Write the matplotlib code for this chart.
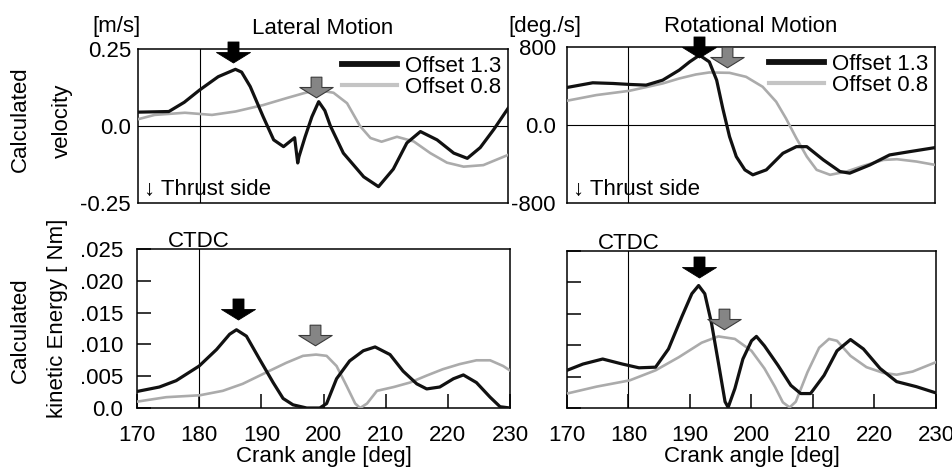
import matplotlib
matplotlib.use("Agg")
import matplotlib.pyplot as plt
from matplotlib.path import Path
from matplotlib.lines import Line2D

plt.rcParams['font.family'] = ['Liberation Sans', 'DejaVu Sans']
plt.rcParams['font.size'] = 16

# ---- data ----
# lateral velocity [m/s]
lat_x13 = [170, 175, 177.5, 180, 183, 185.8, 186.8, 188.2, 190.3, 192, 193.6, 195.4, 195.9,
           196.1, 197.1, 198.2, 199.3, 200.3, 201.2, 203.3, 206.6, 209, 211.4, 213.6, 215.8,
           218.5, 221.2, 223.4, 225.5, 227.7, 230]
lat_v13 = [0.045, 0.047, 0.077, 0.117, 0.16, 0.184, 0.175, 0.128, 0.03, -0.045, -0.067, -0.038,
           -0.12, -0.1, -0.035, 0.03, 0.079, 0.05, 0.0, -0.088, -0.165, -0.197, -0.14, -0.055,
           -0.018, -0.045, -0.088, -0.105, -0.07, -0.011, 0.057]
lat_x08 = [170, 172.7, 177.6, 182, 185.8, 190.3, 194, 196.8, 199, 201.7, 203.9, 206, 207.7,
           209.5, 212, 214.7, 217.4, 220.1, 222.8, 226, 230]
lat_v08 = [0.022, 0.036, 0.043, 0.036, 0.047, 0.068, 0.09, 0.106, 0.117, 0.108, 0.074, 0.0,
           -0.039, -0.051, -0.035, -0.05, -0.088, -0.119, -0.132, -0.127, -0.094]

# rotational velocity [deg./s]
rot_x13 = [170, 174.2, 177.5, 180.2, 182.9, 185.6, 188.3, 190, 191.6, 193.2, 194.4, 195.4,
           196.5, 197.6, 199, 200.3, 202.5, 205.2, 207.4, 209.1, 211.8, 214.5, 216.1, 219.4,
           222.6, 225.9, 230]
rot_v13 = [385, 433, 426, 416, 409, 460, 563, 648, 716, 648, 460, 170, -119, -324, -460, -511,
           -460, -290, -222, -222, -358, -477, -494, -409, -307, -273, -232]
rot_x08 = [170, 174.8, 180.2, 185.6, 188.3, 191, 193.2, 196.5, 199.2, 201.9, 204.1, 205.7,
           207.4, 209.1, 210.7, 212.9, 215.6, 218.3, 221.6, 223.8, 227, 230]
rot_v08 = [249, 307, 351, 426, 477, 518, 539, 535, 494, 392, 239, 68, -136, -324, -460, -511,
           -477, -419, -358, -351, -375, -409]

# lateral kinetic energy [Nm]
latE_x13 = [170, 173.6, 176.3, 180, 182.8, 184.9, 186, 187.6, 189.7, 191.9, 193.5, 195.1,
            197.3, 199.4, 200.5, 202.1, 204.2, 206.4, 208.3, 210.7, 212.8, 215, 216.6, 218.7,
            220.9, 222.5, 224.6, 226.8, 228.4, 230]
latE_e13 = [0.0026, 0.0033, 0.0043, 0.0066, 0.0092, 0.0116, 0.0123, 0.0113, 0.0077, 0.0040,
            0.0015, 0.0005, 0.0, 0.0, 0.0007, 0.0046, 0.0074, 0.0090, 0.0096, 0.0084, 0.0058,
            0.0038, 0.0030, 0.0033, 0.0046, 0.0052, 0.0040, 0.0017, 0.0002, 0.0]
latE_x08 = [170, 174.7, 180.1, 183.8, 187, 190.8, 194, 196.7, 198.8, 200.5, 202.1, 203.7,
            205.1, 205.9, 207, 208.6, 211.3, 213.9, 216.6, 219.2, 221.9, 224.6, 226.8, 228.9, 230]
latE_e08 = [0.0010, 0.0017, 0.0020, 0.0027, 0.0038, 0.0056, 0.0071, 0.0082, 0.0084, 0.0082,
            0.0066, 0.0035, 0.0007, 0.0, 0.0007, 0.0027, 0.0033, 0.0040, 0.0051, 0.0061,
            0.0069, 0.0075, 0.0075, 0.0066, 0.0059]

# rotational kinetic energy [Nm]
rotE_x13 = [170, 172.6, 175.8, 179, 181.7, 184.4, 186.5, 188.7, 190.3, 191.4, 192.4, 193.5,
            194.6, 195.7, 196.2, 197.3, 198.6, 200, 200.8, 202.1, 204.3, 206.4, 208, 209.6,
            211.8, 213.9, 216.1, 218.2, 220.9, 223.6, 226.8, 230]
rotE_e13 = [0.0060, 0.0070, 0.0078, 0.0070, 0.0064, 0.0065, 0.0094, 0.0146, 0.0182, 0.0195,
            0.0182, 0.0135, 0.0073, 0.0010, 0.0001, 0.0031, 0.0078, 0.0107, 0.0114, 0.0099,
            0.0068, 0.0036, 0.0023, 0.0023, 0.0052, 0.0091, 0.0109, 0.0094, 0.0063, 0.0042,
            0.0034, 0.0024]
rotE_x08 = [170, 174.8, 180.2, 184.4, 188.2, 191.9, 194.6, 197.3, 200, 202.1, 203.8, 205.1,
            206.2, 207.2, 209.1, 211, 212.6, 213.9, 216.1, 218.7, 221.4, 223.6, 226.2, 230]
rotE_e08 = [0.0023, 0.0034, 0.0044, 0.0060, 0.0081, 0.0104, 0.0114, 0.0110, 0.0091, 0.0063,
            0.0034, 0.0009, 0.0001, 0.0010, 0.0057, 0.0096, 0.0110, 0.0107, 0.0083, 0.0065,
            0.0056, 0.0053, 0.0058, 0.0073]

labels = ["Offset 1.3", "Offset 0.8"]
x_ticks = [170, 180, 190, 200, 210, 220, 230]
energy_ticks = [0.0, 0.005, 0.010, 0.015, 0.020, 0.025]
energy_ticklabels = ["0.0", ".005", ".010", ".015", ".020", ".025"]

# block arrows marking the peaks: (x, y) for offset 1.3 and offset 0.8
arrows_lat = [(185.4, 0.239), (198.8, 0.128)]
arrows_rot = [(191.5, 805), (196.1, 700)]
arrows_latE = [(186.2, 0.0155), (198.7, 0.0115)]
arrows_rotE = [(191.5, 0.0224), (195.5, 0.0142)]

BLACK = "#111111"
GREY = "#ababab"

# block arrow marker shape
arrow_path = Path([(-5.5, 10.5), (5.5, 10.5), (5.5, 0), (17, 0), (0, -10.5), (-17, 0),
                   (-5.5, 0), (-5.5, 10.5)], closed=True)

fig = plt.figure(figsize=(9.53, 4.68), dpi=100)
W, H = 953.0, 468.0


def add_ax(l, r, t, b):
    return fig.add_axes([l / W, 1 - b / H, (r - l) / W, (b - t) / H])


ax_lat = add_ax(138, 508, 49, 203)
ax_rot = add_ax(567, 935, 47, 203)
ax_latE = add_ax(137, 510, 249, 408)
ax_rotE = add_ax(567, 936, 251, 408)

panels = [
    (ax_lat, lat_x13, lat_v13, lat_x08, lat_v08, arrows_lat),
    (ax_rot, rot_x13, rot_v13, rot_x08, rot_v08, arrows_rot),
    (ax_latE, latE_x13, latE_e13, latE_x08, latE_e08, arrows_latE),
    (ax_rotE, rotE_x13, rotE_e13, rotE_x08, rotE_e08, arrows_rotE),
]

for ax, x13, y13, x08, y08, arr in panels:
    ax.plot(x08, y08, color=GREY, lw=1.9, zorder=3)
    ax.plot(x13, y13, color=BLACK, lw=2.3, zorder=4)
    ax.axvline(180, color="black", lw=0.8, zorder=2)
    ax.set_xlim(170, 230)
    for sp in ax.spines.values():
        sp.set_linewidth(1.1)
    ax.plot(arr[0][0], arr[0][1], marker=arrow_path, markersize=24.5, color="black",
            markerfacecolor="black", markeredgecolor="black", markeredgewidth=0.6,
            clip_on=False, zorder=6, linestyle="none")
    ax.plot(arr[1][0], arr[1][1], marker=arrow_path, markersize=24, color="#808080",
            markerfacecolor="#858585", markeredgecolor="#3a3a3a", markeredgewidth=0.8,
            clip_on=False, zorder=6, linestyle="none")

# top row: velocities
for ax, lim, ticks, tlabels, title in [
        (ax_lat, 0.25, [-0.25, 0, 0.25], ["-0.25", "0.0", "0.25"], "Lateral Motion"),
        (ax_rot, 800, [-800, 0, 800], ["-800", "0.0", "800"], "Rotational Motion")]:
    ax.set_ylim(-lim, lim)
    ax.axhline(0, color="black", lw=0.8, zorder=2)
    ax.set_xticks([])
    ax.set_yticks(ticks)
    ax.set_yticklabels(tlabels)
    ax.tick_params(axis="y", length=0, pad=5)
    ax.set_title(title, pad=11, fontsize=16)
    ax.text(0.015, 0.02, "\u2193 Thrust side", transform=ax.transAxes, ha="left",
            va="bottom")
    handles = [Line2D([], [], color=BLACK, lw=4.2), Line2D([], [], color="#c4c4c4", lw=3)]
    ax.legend(handles, labels, loc="upper right", bbox_to_anchor=(1.0, 1.0), frameon=False,
              handlelength=2.5, handletextpad=0.35, labelspacing=0.0, borderaxespad=0.1,
              borderpad=0.2)
ax_rot.tick_params(axis="y", pad=8)

# bottom row: kinetic energy
for ax in (ax_latE, ax_rotE):
    ax.set_ylim(0, 0.025)
    ax.set_yticks(energy_ticks)
    ax.set_xticks(x_ticks)
    ax.tick_params(direction="in", length=10, width=1.1, pad=12)
    ax.set_xlabel("Crank angle [deg]", labelpad=0)
    ax.text(180, 1.01, "CTDC", transform=ax.get_xaxis_transform(), ha="center",
            va="baseline")
ax_latE.set_yticklabels(energy_ticklabels)
ax_latE.tick_params(axis="y", pad=10)
ax_rotE.set_yticklabels([])

# units and side labels
fig.text(92 / W, 1 - 32 / H, "[m/s]", ha="left", va="baseline")
fig.text(508 / W, 1 - 32 / H, "[deg./s]", ha="left", va="baseline")
fig.text(20 / W, 1 - 119 / H, "Calculated", rotation=90, ha="center", va="center")
fig.text(62 / W, 1 - 121 / H, "velocity", rotation=90, ha="center", va="center")
fig.text(20 / W, 1 - 330 / H, "Calculated", rotation=90, ha="center", va="center")
fig.text(58 / W, 1 - 318 / H, "kinetic Energy [ Nm]", rotation=90, ha="center", va="center")

fig.savefig("out.png", dpi=100)
